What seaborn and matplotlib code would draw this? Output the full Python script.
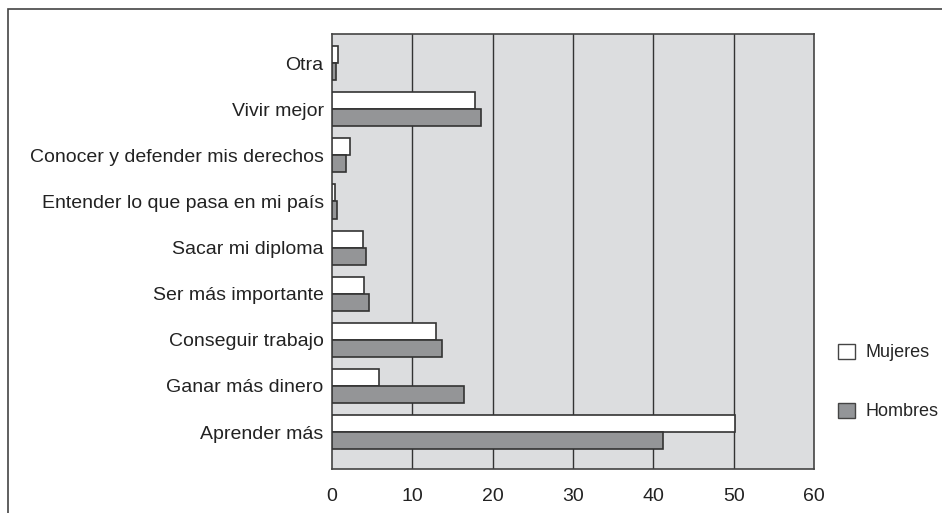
import pandas as pd
import numpy as np
import matplotlib.pyplot as plt
import seaborn as sns
from matplotlib.patches import Rectangle, Patch

categorias = ['Otra', 'Vivir mejor', 'Conocer y defender mis derechos',
              'Entender lo que pasa en mi país', 'Sacar mi diploma',
              'Ser más importante', 'Conseguir trabajo', 'Ganar más dinero',
              'Aprender más']
mujeres = [0.7, 17.8, 2.2, 0.4, 3.9, 4.0, 13.0, 5.9, 50.2]
hombres = [0.5, 18.6, 1.8, 0.6, 4.2, 4.6, 13.7, 16.4, 41.2]
series = ['Mujeres', 'Hombres']
xticks = [0, 10, 20, 30, 40, 50, 60]

df = pd.DataFrame({'categoria': categorias * 2,
                   'valor': mujeres + hombres,
                   'sexo': ['Mujeres'] * len(categorias) + ['Hombres'] * len(categorias)})

sns.set_style('white')
plt.rcParams['font.family'] = ['Liberation Sans', 'DejaVu Sans']

fig = plt.figure(figsize=(9.42, 5.13), dpi=100)
ax = fig.add_axes([332 / 942, 1 - 469 / 513, 482 / 942, 435 / 513])
ax.set_facecolor('#dcdddf')

colores = {'Mujeres': 'white', 'Hombres': '#939598'}
sns.barplot(data=df, x='valor', y='categoria', hue='sexo', hue_order=series,
            palette=colores, orient='h', width=0.74, edgecolor='#333333',
            linewidth=1.2, legend=False, ax=ax, zorder=3)

for v in xticks[1:-1]:
    ax.axvline(v, color='#333333', lw=1, zorder=1)

ax.set_xlim(0, 60)
ax.set_ylim(8.8, -0.63)
ax.set_xticks(xticks)
ax.tick_params(axis='both', length=0, labelsize=14, colors='#222222')
ax.tick_params(axis='x', pad=14)
ax.tick_params(axis='y', pad=6)
ax.set_xlabel('')
ax.set_ylabel('')
for s in ax.spines.values():
    s.set_color('#444444')
    s.set_linewidth(1.2)

handles = [Patch(facecolor=colores[s], edgecolor='#444444', label=s) for s in series]
fig.legend(handles=handles, loc='center left', bbox_to_anchor=(822 / 942, 1 - 382 / 513),
           frameon=False, fontsize=13, handlelength=0.9, handleheight=0.9,
           labelspacing=2.3, handletextpad=0.6)

fig.patches.append(Rectangle((8 / 942, -0.1), 1.2, 1.1 - 9 / 513, transform=fig.transFigure,
                             fill=False, edgecolor='#444444', lw=1.2))

fig.savefig('out.png', dpi=100)
